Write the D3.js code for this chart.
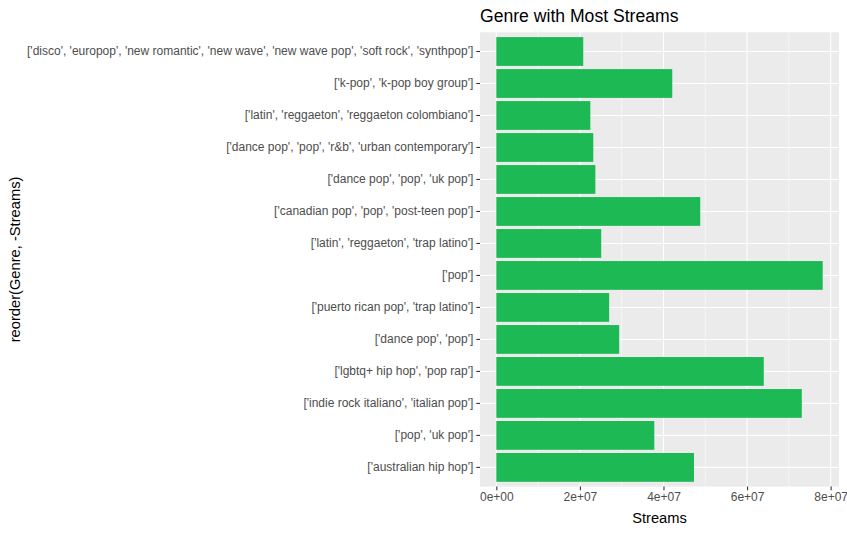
<!DOCTYPE html>
<html>
<head>
<meta charset="utf-8">
<script src="https://cdn.jsdelivr.net/npm/d3@7"></script>
<style>
  html, body { margin: 0; padding: 0; background: #fff; }
  svg { display: block; font-family: "Liberation Sans", Arial, sans-serif; }
</style>
</head>
<body>
<svg id="chart" width="847" height="533"></svg>
<script>
const genres = [
  "['disco', 'europop', 'new romantic', 'new wave', 'new wave pop', 'soft rock', 'synthpop']",
  "['k-pop', 'k-pop boy group']",
  "['latin', 'reggaeton', 'reggaeton colombiano']",
  "['dance pop', 'pop', 'r&b', 'urban contemporary']",
  "['dance pop', 'pop', 'uk pop']",
  "['canadian pop', 'pop', 'post-teen pop']",
  "['latin', 'reggaeton', 'trap latino']",
  "['pop']",
  "['puerto rican pop', 'trap latino']",
  "['dance pop', 'pop']",
  "['lgbtq+ hip hop', 'pop rap']",
  "['indie rock italiano', 'italian pop']",
  "['pop', 'uk pop']",
  "['australian hip hop']"
];
const streams = [
  20800000, 42100000, 22500000, 23200000, 23700000, 48800000, 25100000,
  78100000, 27000000, 29400000, 64000000, 73100000, 37800000, 47300000
];
const xTickValues = [0, 20000000, 40000000, 60000000, 80000000];
const xTickLabels = ["0e+00", "2e+07", "4e+07", "6e+07", "8e+07"];
const xMinorValues = [10000000, 30000000, 50000000, 70000000];

const svg = d3.select("#chart");
const panel = { left: 480, right: 839, top: 32.3, bottom: 486.6 };

const maxV = d3.max(streams);
const x = d3.scaleLinear()
  .domain([-0.05 * maxV, maxV * 1.05])
  .range([panel.left, panel.right]);

const y = d3.scaleBand()
  .domain(genres)
  .range([panel.top, panel.bottom])
  .paddingInner(0.1)
  .paddingOuter(0.15);

// panel background
svg.append("rect")
  .attr("x", panel.left).attr("y", panel.top)
  .attr("width", panel.right - panel.left)
  .attr("height", panel.bottom - panel.top)
  .attr("fill", "#EBEBEB");

// minor gridlines
svg.append("g").selectAll("line").data(xMinorValues).join("line")
  .attr("x1", d => x(d)).attr("x2", d => x(d))
  .attr("y1", panel.top).attr("y2", panel.bottom)
  .attr("stroke", "#fff").attr("stroke-width", 0.55);

// major gridlines
svg.append("g").selectAll("line").data(xTickValues).join("line")
  .attr("x1", d => x(d)).attr("x2", d => x(d))
  .attr("y1", panel.top).attr("y2", panel.bottom)
  .attr("stroke", "#fff").attr("stroke-width", 1.1);

svg.append("g").selectAll("line").data(genres).join("line")
  .attr("x1", panel.left).attr("x2", panel.right)
  .attr("y1", d => y(d) + y.bandwidth() / 2).attr("y2", d => y(d) + y.bandwidth() / 2)
  .attr("stroke", "#fff").attr("stroke-width", 1.1);

// bars
svg.append("g").selectAll("rect").data(genres).join("rect")
  .attr("x", x(0))
  .attr("y", d => y(d))
  .attr("width", (d, i) => x(streams[i]) - x(0))
  .attr("height", y.bandwidth())
  .attr("fill", "#1DB954");

// x axis
const xAxis = d3.axisBottom(x)
  .tickValues(xTickValues)
  .tickFormat((d, i) => xTickLabels[i])
  .tickSize(3.7)
  .tickPadding(2.5);
const gx = svg.append("g")
  .attr("transform", `translate(0,${panel.bottom})`)
  .call(xAxis);
gx.select(".domain").remove();
gx.selectAll(".tick line").attr("stroke", "#333").attr("stroke-width", 1.1);
gx.selectAll(".tick text")
  .attr("fill", "#4D4D4D")
  .style("font-size", "12px")
  .style("font-family", "'Liberation Sans', Arial, sans-serif");

// y axis
const yAxis = d3.axisLeft(y).tickSize(3.7).tickPadding(3);
const gy = svg.append("g")
  .attr("transform", `translate(${panel.left},0)`)
  .call(yAxis);
gy.select(".domain").remove();
gy.selectAll(".tick line").attr("stroke", "#333").attr("stroke-width", 1.1);
gy.selectAll(".tick text")
  .attr("fill", "#4D4D4D")
  .style("font-size", "12px")
  .style("font-family", "'Liberation Sans', Arial, sans-serif");

// titles
svg.append("text")
  .attr("x", panel.left).attr("y", 22)
  .attr("fill", "#000")
  .style("font-size", "17.6px")
  .text("Genre with Most Streams");

svg.append("text")
  .attr("x", (panel.left + panel.right) / 2).attr("y", 523)
  .attr("text-anchor", "middle")
  .attr("fill", "#000")
  .style("font-size", "14.7px")
  .text("Streams");

svg.append("text")
  .attr("transform", `translate(20,${(panel.top + panel.bottom) / 2}) rotate(-90)`)
  .attr("text-anchor", "middle")
  .attr("fill", "#000")
  .style("font-size", "14.7px")
  .text("reorder(Genre, -Streams)");
</script>
</body>
</html>
